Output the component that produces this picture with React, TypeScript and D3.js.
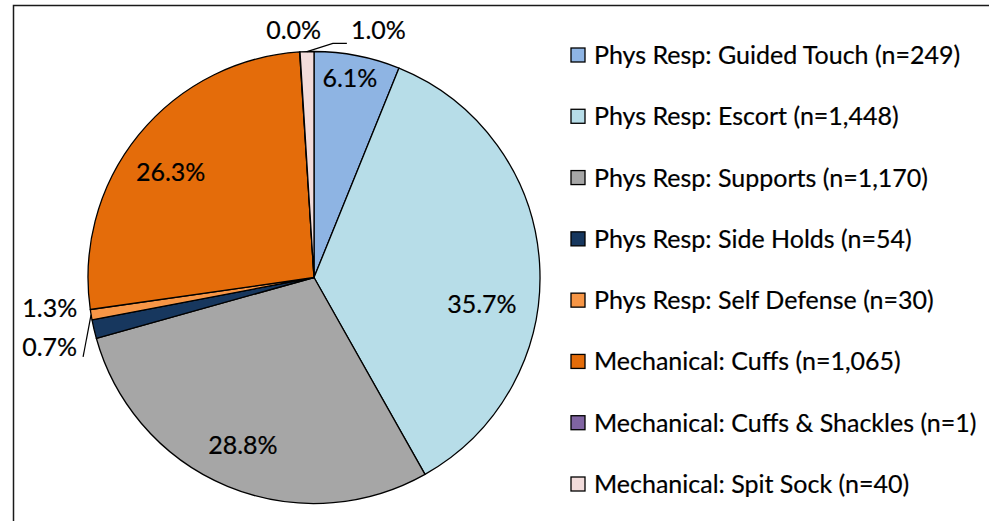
import React, { useEffect, useRef } from "react";
import * as d3 from "d3";

// restraint types, in pie order (clockwise from 12 o'clock)
const categories = [
  "Phys Resp: Guided Touch",
  "Phys Resp: Escort",
  "Phys Resp: Supports",
  "Phys Resp: Side Holds",
  "Phys Resp: Self Defense",
  "Mechanical: Cuffs",
  "Mechanical: Cuffs & Shackles",
  "Mechanical: Spit Sock",
];
const counts = [249, 1448, 1170, 54, 30, 1065, 1, 40];
const colors = [
  "#8EB4E3",
  "#B7DDE8",
  "#A6A6A6",
  "#17375E",
  "#F79646",
  "#E46C0A",
  "#8064A2",
  "#F2DCDB",
];

const W = 989;
const H = 521;
const FONT = "Lato, 'Open Sans', sans-serif";
const FONT_SIZE = 25;

export default function App() {
  const svgRef = useRef<SVGSVGElement | null>(null);

  useEffect(() => {
    if (!svgRef.current) return;
    const svg = d3.select(svgRef.current);
    svg.selectAll("*").remove();

    // outer frame, runs off the right and bottom edge like the screenshot
    svg
      .append("rect")
      .attr("x", 13.5)
      .attr("y", 5.5)
      .attr("width", 1100)
      .attr("height", 700)
      .attr("fill", "#fff")
      .attr("stroke", "#1a1a1a")
      .attr("stroke-width", 1.5);

    const cx = 314;
    const cy = 277.5;
    const r = 226;
    const total = d3.sum(counts);
    const pct = d3.format(".1%");

    const pie = d3
      .pie<number>()
      .sort(null)
      .value((d) => d);
    const arcs = pie(counts);
    const arc = d3.arc<d3.PieArcDatum<number>>().innerRadius(0).outerRadius(r);

    const g = svg.append("g").attr("transform", `translate(${cx},${cy})`);

    g.selectAll("path.slice")
      .data(arcs)
      .join("path")
      .attr("class", "slice")
      .attr("d", arc)
      .attr("fill", (_, i) => colors[i])
      .attr("stroke", "#000")
      .attr("stroke-width", 1.3)
      .attr("stroke-linejoin", "round");

    // label placement: [angle in degrees, radius as share of r]
    const labelPos: [number, number][] = [
      [10.2, 0.898],
      [99, 0.752],
      [203, 0.805],
      [263.5, 1.177],
      [255.2, 1.21],
      [306.4, 0.788],
      [355.3, 1.098],
      [14.6, 1.13],
    ];
    const polar = (deg: number, rr: number): [number, number] => {
      const a = (deg * Math.PI) / 180;
      return [Math.sin(a) * rr, -Math.cos(a) * rr];
    };

    // leader lines: slice index -> offsets from its label centre
    const leaders: { index: number; via: [number, number][] }[] = [
      { index: 7, via: [[-45.5, 13], [-31.5, 13]] },
      { index: 4, via: [[33.5, 9.5]] },
    ];
    leaders.forEach((ld) => {
      const a = arcs[ld.index];
      const mid = (a.startAngle + a.endAngle) / 2;
      const start: [number, number] = [Math.sin(mid) * r, -Math.cos(mid) * r];
      const [lx, ly] = polar(labelPos[ld.index][0], labelPos[ld.index][1] * r);
      const pts: [number, number][] = [
        start,
        ...ld.via.map(([dx, dy]) => [lx + dx, ly + dy] as [number, number]),
      ];
      g.append("path")
        .attr("d", d3.line()(pts))
        .attr("fill", "none")
        .attr("stroke", "#000")
        .attr("stroke-width", 1.2);
    });

    g.selectAll("text.pct")
      .data(arcs)
      .join("text")
      .attr("class", "pct")
      .attr("transform", (_, i) => {
        const [x, y] = polar(labelPos[i][0], labelPos[i][1] * r);
        return `translate(${x},${y})`;
      })
      .attr("text-anchor", "middle")
      .attr("dy", "0.36em")
      .attr("font-family", FONT)
      .attr("font-size", FONT_SIZE)
      .attr("fill", "#000")
      .attr("stroke", "#000")
      .attr("stroke-width", 0.2)
      .text((d) => pct(d.data / total));

    // legend
    const legendY = d3
      .scalePoint<number>()
      .domain(d3.range(categories.length))
      .range([55, 484]);
    const fmt = d3.format(",");
    const leg = svg
      .append("g")
      .selectAll("g")
      .data(categories)
      .join("g")
      .attr("transform", (_, i) => `translate(571,${legendY(i)})`);
    leg
      .append("rect")
      .attr("x", 0)
      .attr("y", -7)
      .attr("width", 14)
      .attr("height", 14)
      .attr("fill", (_, i) => colors[i])
      .attr("stroke", "#000")
      .attr("stroke-width", 1.3);
    leg
      .append("text")
      .attr("x", 23)
      .attr("dy", "0.36em")
      .attr("font-family", FONT)
      .attr("font-size", FONT_SIZE)
      .attr("fill", "#000")
      .attr("stroke", "#000")
      .attr("stroke-width", 0.2)
      .text((d, i) => `${d} (n=${fmt(counts[i])})`);
  }, []);

  return (
    <svg
      ref={svgRef}
      width={W}
      height={H}
      style={{ position: "absolute", left: 0, top: 0, background: "#fff" }}
    />
  );
}
